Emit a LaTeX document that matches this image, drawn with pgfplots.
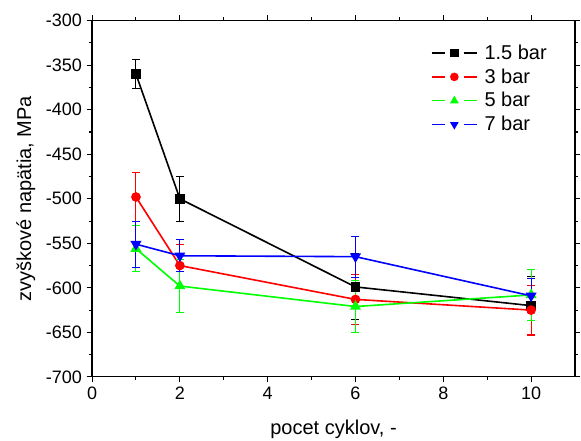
\documentclass[border=0pt]{standalone}
\usepackage{fontspec}
\setmainfont{Liberation Sans}
\usepackage{pgfplots}
\pgfplotsset{compat=1.18}

\definecolor{cRed}{RGB}{255,0,0}
\definecolor{cGreen}{RGB}{0,255,0}
\definecolor{cBlue}{RGB}{0,0,255}

\begin{document}
\begin{tikzpicture}[font=\fontsize{15}{18}\selectfont]
\begin{axis}[
    name=ax,
    scale only axis,
    width=362pt, height=267pt,
    xmin=0, xmax=11,
    ymin=-700, ymax=-300,
    xtick={0,2,4,6,8,10},
    ytick={-700,-650,...,-300},
    minor x tick num=1,
    minor y tick num=1,
    tick align=outside,
    major tick length=4pt,
    minor tick length=2.5pt,
    axis line style={line width=0.9pt},
    every tick/.style={black, line width=0.8pt},
    tick label style={font=\fontsize{13.5}{16}\selectfont},
    /pgf/number format/assume math mode=true,
    xlabel={pocet cyklov, -},
    ylabel={zvyškové napätia, MPa},
    every axis x label/.style={at={(axis description cs:0.5,0)}, anchor=base, yshift=-43.5pt},
    every axis y label/.style={at={(axis description cs:0,0.5)}, anchor=base, xshift=-45.75pt, rotate=90},
    every axis plot/.append style={line width=1.2pt},
    error bars/error bar style={line width=0.8pt},
    error bars/error mark options={rotate=90, mark size=3pt, line width=0.8pt},
    legend style={draw=none, fill=none, at={(0.693,0.948)}, anchor=north west,
        row sep=1.5pt, font=\fontsize{15}{18}\selectfont},
    legend cell align=left,
    legend image code/.code={
        \draw[#1,mark=none,line width=1pt] (0pt,0pt) -- (10pt,0pt) (24pt,0pt) -- (34pt,0pt);
        \draw[#1,only marks,mark size=2.6pt] plot coordinates {(17pt,0pt)};
        \path (37pt,0pt);
    },
]
\addplot[black, mark=square*, mark size=3pt,
    error bars/.cd, y dir=both, y explicit]
  coordinates {(1,-360) +- (0,16) (2,-500) +- (0,25) (6,-599) +- (0,37) (10,-620) +- (0,33)};
\addlegendentry{1.5 bar}
\addplot[cRed, mark=*, mark size=3pt,
    error bars/.cd, y dir=both, y explicit]
  coordinates {(1,-498) +- (0,27) (2,-575) +- (0,24) (6,-613) +- (0,28) (10,-625) +- (0,28)};
\addlegendentry{3 bar}
\addplot[cGreen, mark=triangle*, mark size=3.6pt,
    error bars/.cd, y dir=both, y explicit]
  coordinates {(1,-556) +- (0,26) (2,-598) +- (0,30) (6,-621) +- (0,29) (10,-608) +- (0,29)};
\addlegendentry{5 bar}
\addplot[cBlue, mark=triangle*, mark size=3.6pt, mark options={rotate=180},
    error bars/.cd, y dir=both, y explicit]
  coordinates {(1,-551) +- (0,26) (2,-564) +- (0,18) (6,-565) +- (0,23) (10,-609) +- (0,19)};
\addlegendentry{7 bar}
\end{axis}
\pgfresetboundingbox
\path (ax.south west) ++(-69pt,-48pt) rectangle ([shift={(4.5pt,15.5pt)}]ax.north east);
\end{tikzpicture}
\end{document}
